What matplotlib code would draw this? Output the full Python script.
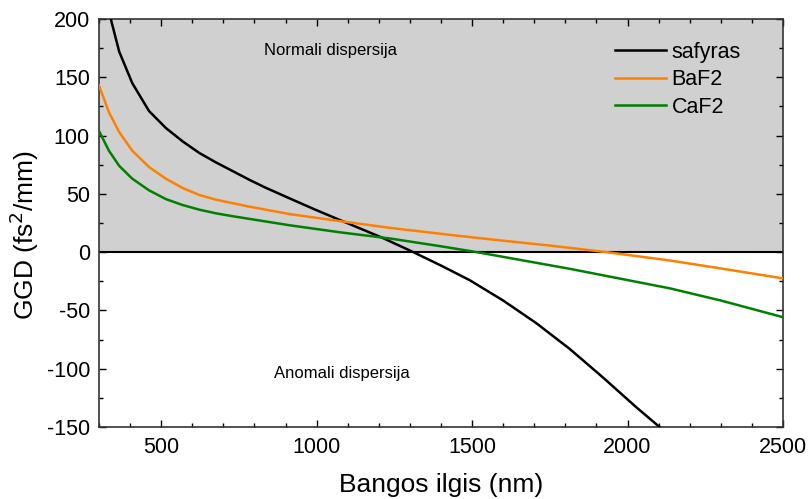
import numpy as np
import matplotlib.pyplot as plt
from matplotlib.ticker import MultipleLocator

plt.rcParams['font.family'] = ['Liberation Sans', 'DejaVu Sans']
plt.rcParams['axes.unicode_minus'] = False

# GDD kreivės (fs^2/mm) pagal bangos ilgį (nm)
safyras_nm = [338, 365, 407, 461, 515, 569, 623, 676, 730, 784, 834, 914, 995,
              1075, 1156, 1214, 1311, 1400, 1492, 1600, 1707, 1814, 1921, 2028, 2103]
safyras_gdd = [200, 172, 145, 121, 106.5, 95, 85, 77, 69.5, 62, 55.5, 46, 36.5,
               27.5, 18.5, 12, 0, -11.5, -24, -41.5, -61, -83, -107.5, -133, -150]

baf2_nm = [300, 332, 365, 407, 461, 515, 569, 623, 676, 730, 784, 914, 1075,
           1236, 1429, 1600, 1751, 1932, 2135, 2300, 2500]
baf2_gdd = [143, 120, 103, 87, 73, 63, 55, 49, 45, 42, 39, 32.6, 26.6,
            20.8, 14.8, 9.8, 5.6, 0, -7.1, -14, -22.5]

caf2_nm = [300, 332, 365, 407, 461, 515, 569, 623, 676, 730, 784, 914, 1075,
           1236, 1400, 1515, 1814, 2135, 2300, 2500]
caf2_gdd = [104, 87, 74, 63, 53, 45.5, 40.4, 36.4, 33.3, 30.8, 28.5, 23, 17,
            11.7, 5, 0, -14.3, -31, -41.5, -55.8]

xmin, xmax = 300, 2500
ymin, ymax = -150, 200

fig = plt.figure(figsize=(8.08, 4.99), dpi=100)
ax = fig.add_axes([0.1225, 0.1443, 0.8465, 0.8177])

# normalios dispersijos sritis
ax.axhspan(0, ymax, color='#d0d0d0', zorder=0, lw=0)
ax.axhline(0, color='black', lw=1.5, zorder=1)

ax.plot(safyras_nm, safyras_gdd, color='black', lw=1.8, label='safyras', zorder=3)
ax.plot(baf2_nm, baf2_gdd, color='#ff8000', lw=1.8, label='BaF2', zorder=3)
ax.plot(caf2_nm, caf2_gdd, color='#008000', lw=1.8, label='CaF2', zorder=3)

ax.text(1046, 173, 'Normali dispersija', fontsize=12, ha='center', va='center')
ax.text(1082, -104, 'Anomali dispersija', fontsize=12, ha='center', va='center')

ax.set_xlim(xmin, xmax)
ax.set_ylim(ymin, ymax)
ax.xaxis.set_major_locator(MultipleLocator(500))
ax.xaxis.set_minor_locator(MultipleLocator(100))
ax.yaxis.set_major_locator(MultipleLocator(50))
ax.yaxis.set_minor_locator(MultipleLocator(25))
ax.tick_params(which='both', direction='in', top=True, right=True, width=1.0)
ax.tick_params(which='major', length=5, labelsize=15.5)
ax.tick_params(which='minor', length=3)
ax.tick_params(axis='x', which='major', pad=7.5)
ax.tick_params(axis='y', which='major', pad=6.5)
for s in ax.spines.values():
    s.set_linewidth(1.2)
    s.set_color('#333333')

ax.set_xlabel('Bangos ilgis (nm)', fontsize=19)
ax.set_ylabel('GGD (fs$^2$/mm)', fontsize=19)
ax.xaxis.set_label_coords(0.5, -0.112)
ax.yaxis.set_label_coords(-0.085, 0.47)

ax.legend(loc='upper left', bbox_to_anchor=(0.754, 0.944), frameon=False,
          fontsize=15.5, borderpad=0, borderaxespad=0, handlelength=2.37,
          handletextpad=0.28, labelspacing=0.3)

fig.savefig('out.png', dpi=100)
